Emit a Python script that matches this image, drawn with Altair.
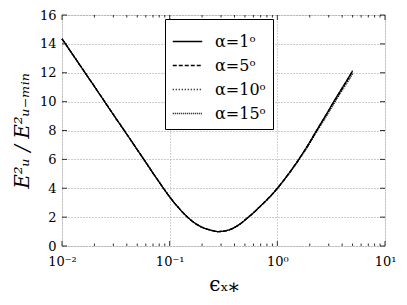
import altair as alt
import pandas as pd

eps = [0.01, 0.015, 0.02, 0.03, 0.04, 0.05, 0.06, 0.07, 0.08, 0.09, 0.1, 0.12,
       0.14, 0.16, 0.18, 0.2, 0.25, 0.28, 0.32, 0.38, 0.45, 0.52, 0.6, 0.7,
       0.8, 0.9, 1.0, 1.2, 1.58, 2.0, 2.25, 3.0, 3.28, 4.0, 4.83, 5.0]
e_a1 = [14.35, 12.42, 11.05, 9.1, 7.74, 6.67, 5.8, 5.05, 4.42, 3.87, 3.4, 2.68,
        2.14, 1.75, 1.48, 1.3, 1.07, 1.0, 1.03, 1.2, 1.52, 1.9, 2.3, 2.78,
        3.2, 3.6, 4.0, 4.75, 6.0, 7.2, 7.85, 9.4, 9.9, 10.95, 11.95, 12.15]
e_a5 = [14.35, 12.42, 11.05, 9.1, 7.74, 6.67, 5.8, 5.05, 4.42, 3.87, 3.4, 2.68,
        2.14, 1.75, 1.48, 1.3, 1.07, 1.0, 1.03, 1.2, 1.52, 1.9, 2.3, 2.78,
        3.2, 3.6, 4.0, 4.75, 6.0, 7.19, 7.84, 9.38, 9.88, 10.93, 11.92, 12.12]
e_a10 = [14.35, 12.42, 11.05, 9.1, 7.74, 6.67, 5.8, 5.05, 4.42, 3.87, 3.4, 2.68,
         2.14, 1.75, 1.48, 1.3, 1.07, 1.0, 1.03, 1.2, 1.52, 1.9, 2.3, 2.78,
         3.2, 3.6, 3.99, 4.74, 5.98, 7.16, 7.8, 9.33, 9.82, 10.86, 11.85, 12.05]
e_a15 = [14.35, 12.42, 11.05, 9.1, 7.74, 6.67, 5.8, 5.05, 4.42, 3.87, 3.4, 2.68,
         2.14, 1.75, 1.48, 1.3, 1.07, 1.0, 1.03, 1.2, 1.52, 1.9, 2.29, 2.77,
         3.18, 3.58, 3.97, 4.71, 5.94, 7.1, 7.74, 9.25, 9.74, 10.77, 11.75, 11.95]
labels = ["α=1ᵒ", "α=5ᵒ", "α=10ᵒ", "α=15ᵒ"]
series = [e_a1, e_a5, e_a10, e_a15]

x_major = [0.01, 0.1, 1, 10]
x_minor = [m * d for d in [0.01, 0.1, 1] for m in range(2, 10)]
y_ticks = list(range(0, 17, 2))

rows = []
for lab, vals in zip(labels, series):
    for e, v in zip(eps, vals):
        rows.append({"eps": e, "E": v, "alpha": lab})
df = pd.DataFrame(rows)

W, H = 323, 231
FONT = "DejaVu Serif"
Y_PER_PX = 16 / H
X_FACTOR = 10 ** (3 * 5 / W)   # 5 px in log-x

xscale = alt.Scale(type="log", domain=[0.01, 10], nice=False)
yscale = alt.Scale(domain=[0, 16], nice=False)

xaxis = alt.Axis(values=x_major, title="ϵₓ⁎", titleFontSize=20, titleFont=FONT,
                 titleFontWeight="normal", titleY=28,
                 labelExpr="datum.value == 0.01 ? '10⁻²' : datum.value == 0.1 ? '10⁻¹' : datum.value == 1 ? '10⁰' : '10¹'",
                 labelFont=FONT, labelFontSize=13, labelColor="black", labelPadding=9,
                 labelFlush=False, labelOverlap=False,
                 grid=True, gridColor="#aaaaaa", gridDash=[1, 2], ticks=False, domain=False)
yaxis = alt.Axis(values=y_ticks, title="E²ᵤ / E²ᵤ₋ₘᵢₙ", titleFontSize=20, titleFont=FONT,
                 titleFontWeight="normal", titleFontStyle="italic", titleX=-30,
                 labelFont=FONT, labelFontSize=13, labelColor="black", labelPadding=6,
                 labelFlush=False, labelOverlap=False,
                 grid=True, gridColor="#999999", gridDash=[1, 2], ticks=False, domain=False)

lines = alt.Chart(df).mark_line(color="black", strokeWidth=1.3, interpolate="monotone").encode(
    x=alt.X("eps:Q", scale=xscale, axis=xaxis),
    y=alt.Y("E:Q", scale=yscale, axis=yaxis),
    strokeDash=alt.StrokeDash("alpha:N", sort=labels,
                              scale=alt.Scale(domain=labels, range=[[1, 0], [4, 2], [1, 2], [1, 1]]),
                              legend=alt.Legend(title=None, orient="none", legendX=103, legendY=4,
                                                symbolType="stroke", symbolSize=870,
                                                symbolStrokeColor="black", symbolStrokeWidth=1.3,
                                                labelFont=FONT, labelFontSize=16, labelColor="black",
                                                strokeColor="black", fillColor="white",
                                                padding=7, rowPadding=-8, symbolOffset=0,
                                                labelOffset=12, cornerRadius=0)),
)

xt = pd.DataFrame({"x": x_major + x_minor, "len": [5] * len(x_major) + [2.5] * len(x_minor)})
bottom_ticks = alt.Chart(xt).transform_calculate(
    y0="0", y1=f"datum.len * {Y_PER_PX}").mark_rule(color="black", strokeWidth=0.8).encode(
    x=alt.X("x:Q", scale=xscale, axis=xaxis), y=alt.Y("y0:Q", scale=yscale, axis=yaxis), y2="y1:Q")
top_ticks = alt.Chart(xt).transform_calculate(
    y0="16", y1=f"16 - datum.len * {Y_PER_PX}").mark_rule(color="black", strokeWidth=0.8).encode(
    x=alt.X("x:Q", scale=xscale, axis=xaxis), y=alt.Y("y0:Q", scale=yscale, axis=yaxis), y2="y1:Q")

yt = pd.DataFrame({"y": y_ticks})
left_ticks = alt.Chart(yt).transform_calculate(
    x0="0.01", x1=f"0.01 * {X_FACTOR}").mark_rule(color="black", strokeWidth=0.8).encode(
    y=alt.Y("y:Q", scale=yscale, axis=yaxis), x=alt.X("x0:Q", scale=xscale, axis=xaxis), x2="x1:Q")
right_ticks = alt.Chart(yt).transform_calculate(
    x0="10", x1=f"10 / {X_FACTOR}").mark_rule(color="black", strokeWidth=0.8).encode(
    y=alt.Y("y:Q", scale=yscale, axis=yaxis), x=alt.X("x0:Q", scale=xscale, axis=xaxis), x2="x1:Q")

chart = alt.layer(lines, bottom_ticks, top_ticks, left_ticks, right_ticks).properties(
    width=W, height=H,
    autosize=alt.AutoSizeParams(type="none"),
    padding={"left": 54, "top": 7, "right": 14, "bottom": 51},
).configure_view(stroke="#777777", strokeWidth=1.5).configure(background="white")

chart.save("out.html", embed_options={"renderer": "svg", "actions": False})
